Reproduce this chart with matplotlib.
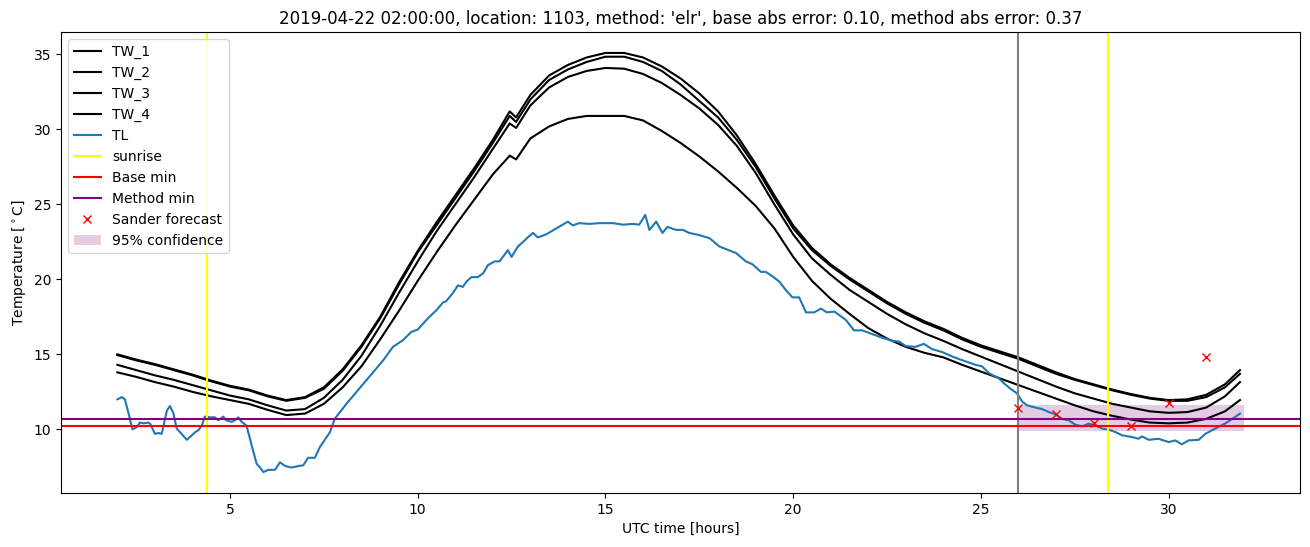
import matplotlib
matplotlib.use("Agg")
import matplotlib.pyplot as plt

# hours since 2019-04-22 00:00 UTC
tw_hours = [2, 2.5, 3, 3.5, 4, 4.5, 5, 5.5, 6, 6.5, 7, 7.5, 8, 8.5, 9, 9.5, 10,
            10.5, 11, 11.5, 12, 12.45, 12.62, 13, 13.5, 14, 14.5, 15, 15.5, 16,
            16.5, 17, 17.5, 18, 18.5, 19, 19.5, 20, 20.5, 21, 21.5, 22, 22.5,
            23, 23.5, 24, 24.5, 25, 25.5, 26, 26.5, 27, 27.5, 28, 28.5, 29,
            29.5, 30, 30.5, 31, 31.5, 31.9]

tw_1 = [15.0, 14.65, 14.35, 14.0, 13.65, 13.25, 12.9, 12.65, 12.25, 11.95, 12.15,
        12.8, 14.0, 15.6, 17.5, 19.8, 21.9, 23.8, 25.6, 27.4, 29.3, 31.2, 30.8,
        32.3, 33.6, 34.3, 34.8, 35.1, 35.1, 34.8, 34.2, 33.4, 32.4, 31.2, 29.6,
        27.7, 25.6, 23.6, 22.1, 21.0, 20.1, 19.3, 18.5, 17.8, 17.2, 16.7, 16.1,
        15.6, 15.2, 14.8, 14.3, 13.8, 13.35, 13.0, 12.65, 12.35, 12.1, 11.95,
        12.0, 12.3, 13.0, 13.95]
tw_2 = [14.95, 14.6, 14.3, 13.95, 13.6, 13.2, 12.85, 12.6, 12.2, 11.9, 12.1,
        12.7, 13.9, 15.5, 17.4, 19.65, 21.8, 23.6, 25.4, 27.2, 29.1, 30.9, 30.5,
        32.0, 33.3, 34.0, 34.5, 34.85, 34.85, 34.5, 33.9, 33.0, 31.9, 30.8, 29.3,
        27.5, 25.4, 23.4, 21.95, 20.9, 20.0, 19.2, 18.4, 17.7, 17.1, 16.6, 16.0,
        15.5, 15.1, 14.7, 14.2, 13.7, 13.3, 12.95, 12.6, 12.3, 12.05, 11.9,
        11.9, 12.15, 12.8, 13.7]
tw_3 = [14.3, 13.95, 13.6, 13.3, 12.95, 12.6, 12.25, 12.0, 11.6, 11.25, 11.35,
        12.1, 13.3, 14.9, 16.9, 19.1, 21.2, 23.2, 25.0, 26.8, 28.7, 30.4, 30.1,
        31.6, 32.8, 33.5, 33.9, 34.1, 34.05, 33.7, 33.1, 32.3, 31.4, 30.3, 28.9,
        27.1, 25.0, 23.0, 21.4, 20.3, 19.3, 18.5, 17.7, 17.0, 16.4, 15.9, 15.35,
        14.85, 14.35, 13.85, 13.35, 12.85, 12.4, 12.05, 11.7, 11.45, 11.2, 11.1,
        11.15, 11.45, 12.2, 13.15]
tw_4 = [13.8, 13.5, 13.15, 12.85, 12.5, 12.2, 11.95, 11.7, 11.3, 10.95, 11.05,
        11.7, 12.8, 14.2, 16.0, 17.9, 19.9, 21.8, 23.6, 25.3, 27.0, 28.25, 28.0,
        29.4, 30.2, 30.7, 30.9, 30.9, 30.9, 30.6, 29.9, 29.1, 28.2, 27.2, 26.1,
        24.9, 23.4, 21.5, 19.9, 18.7, 17.7, 16.75, 16.05, 15.5, 15.1, 14.8, 14.3,
        13.85, 13.4, 12.95, 12.5, 12.05, 11.6, 11.2, 10.9, 10.65, 10.45, 10.4,
        10.45, 10.7, 11.2, 11.95]

tl_hours = [2.0, 2.12, 2.2, 2.3, 2.4, 2.52, 2.6, 2.69, 2.83, 2.88, 3.0, 3.1, 3.18,
            3.32, 3.4, 3.49, 3.58, 3.71, 3.85, 3.98, 4.07, 4.16, 4.25, 4.33,
            4.47, 4.6, 4.69, 4.82, 4.9, 5.04, 5.13, 5.22, 5.31, 5.44, 5.58, 5.71,
            5.8, 5.89, 6.02, 6.2, 6.33, 6.47, 6.64, 6.82, 6.95, 7.08, 7.26, 7.39,
            7.66, 7.79, 8.1, 8.64, 9.08, 9.34, 9.61, 9.83, 10.0, 10.27, 10.5,
            10.67, 10.76, 10.94, 11.07, 11.2, 11.3, 11.43, 11.6, 11.74, 11.87,
            12.05, 12.18, 12.4, 12.5, 12.67, 12.85, 12.93, 13.07, 13.2, 13.42,
            13.69, 14.0, 14.13, 14.3, 14.57, 14.84, 15.2, 15.47, 15.73, 15.9,
            16.06, 16.17, 16.35, 16.52, 16.65, 16.88, 17.06, 17.23, 17.5, 17.77,
            18.03, 18.48, 18.74, 18.92, 19.14, 19.27, 19.45, 19.63, 19.8, 19.98,
            20.16, 20.34, 20.56, 20.74, 20.9, 21.1, 21.4, 21.62, 21.84, 22.11,
            22.38, 22.64, 22.82, 23.0, 23.26, 23.48, 23.7, 23.97, 24.24, 24.4,
            24.57, 24.86, 25.03, 25.21, 25.48, 25.6, 25.79, 25.96, 26.1, 26.23,
            26.45, 26.63, 26.81, 26.99, 27.16, 27.34, 27.52, 27.7, 27.87, 28.05,
            28.23, 28.4, 28.58, 28.76, 29.02, 29.2, 29.29, 29.47, 29.73, 30.0,
            30.18, 30.35, 30.53, 30.8, 30.98, 31.24, 31.5, 31.77, 31.9]
tl = [12.0, 12.15, 12.0, 11.05, 10.0, 10.15, 10.45, 10.4, 10.45, 10.35, 9.7, 9.75,
      9.7, 11.25, 11.55, 11.1, 10.05, 9.7, 9.3, 9.6, 9.8, 9.95, 10.25, 10.85,
      10.8, 10.8, 10.6, 10.85, 10.6, 10.5, 10.6, 10.8, 10.5, 10.25, 8.9, 7.7,
      7.45, 7.15, 7.3, 7.3, 7.8, 7.55, 7.45, 7.55, 7.6, 8.1, 8.1, 8.8, 9.8, 10.7,
      11.7, 13.3, 14.6, 15.5, 15.95, 16.5, 16.65, 17.4, 17.95, 18.45, 18.55,
      19.1, 19.6, 19.5, 19.85, 20.15, 20.15, 20.4, 20.95, 21.2, 21.2, 21.95,
      21.5, 22.2, 22.6, 22.8, 23.1, 22.8, 23.0, 23.4, 23.85, 23.6, 23.75, 23.7,
      23.75, 23.75, 23.65, 23.7, 23.65, 24.3, 23.3, 23.85, 23.1, 23.5, 23.3,
      23.3, 23.1, 22.95, 22.75, 22.2, 21.75, 21.2, 21.0, 20.5, 20.5, 20.2,
      19.85, 19.3, 18.8, 18.8, 17.8, 17.8, 18.05, 17.8, 17.85, 17.3, 16.6, 16.6,
      16.35, 16.1, 15.9, 15.85, 15.55, 15.5, 15.7, 15.35, 15.15, 14.85, 14.7,
      14.55, 14.3, 14.2, 13.75, 13.4, 13.1, 12.7, 12.4, 11.85, 11.6, 11.45,
      11.35, 11.15, 11.0, 10.7, 10.6, 10.3, 10.2, 10.38, 10.27, 10.05, 9.98,
      9.82, 9.6, 9.49, 9.37, 9.53, 9.3, 9.37, 9.15, 9.26, 9.0, 9.26, 9.3, 9.7,
      10.05, 10.38, 10.82, 11.05]

sunrise_hours = [4.38, 28.38]
forecast_start = 26
base_min = 10.25
method_min = 10.7

sander_hours = [26, 27, 28, 29, 30, 31]
sander_temp = [11.45, 11.05, 10.45, 10.25, 11.78, 14.83]
conf_hours = [26, 32]
conf_low = [9.9, 9.9]
conf_high = [11.65, 11.65]

fig = plt.figure(figsize=(13.1, 5.47), dpi=100)
ax = fig.add_subplot(111)
fig.subplots_adjust(left=0.0466, right=0.9924, top=0.9415, bottom=0.0987)

ax.plot(tw_hours, tw_1, color="black", label="TW_1")
ax.plot(tw_hours, tw_2, color="black", label="TW_2")
ax.plot(tw_hours, tw_3, color="black", label="TW_3")
ax.plot(tw_hours, tw_4, color="black", label="TW_4")
ax.plot(tl_hours, tl, color="tab:blue", label="TL")

ax.axvline(sunrise_hours[0], color="yellow", label="sunrise")
ax.axvline(sunrise_hours[1], color="yellow")
ax.axvline(forecast_start, color="grey")
ax.axhline(base_min, color="red", label="Base min")
ax.axhline(method_min, color="purple", label="Method min")

ax.plot(sander_hours, sander_temp, "x", color="red", label="Sander forecast")
ax.fill_between(conf_hours, conf_low, conf_high, color="purple", alpha=0.2,
                linewidth=0, label="95% confidence")

ax.set_xlabel("UTC time [hours]")
ax.set_ylabel(r"Temperature [$^\circ$C]")
ax.set_title("2019-04-22 02:00:00, location: 1103, method: 'elr', "
             "base abs error: 0.10, method abs error: 0.37")
ax.legend(loc="upper left")

fig.savefig("out.png", dpi=100)
